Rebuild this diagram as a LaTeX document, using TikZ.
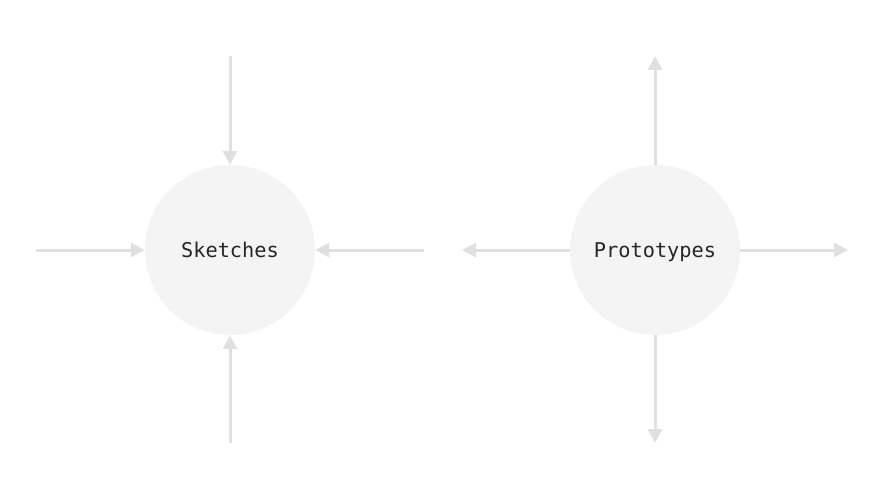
\documentclass[tikz,border=0pt]{standalone}
\usepackage{fontspec}
\setmonofont{DejaVu Sans Mono}
\usetikzlibrary{arrows.meta,positioning}
\definecolor{arrowgray}{HTML}{E0E0E0}
\definecolor{blobgray}{HTML}{F4F4F4}

\begin{document}
\begin{tikzpicture}[x=1pt,y=-1pt,
  blob/.style={circle,fill=blobgray,minimum size=170pt,inner sep=0pt,
    text height=14.5pt,text depth=0pt,
    font=\ttfamily\fontsize{20.3}{22}\selectfont,text=black!85},
  flow/.style={draw=arrowgray,line width=3pt,-{Triangle[length=14pt,width=14pt]}}]
\useasboundingbox (0,0) rectangle (885,500);
% inward
\node[blob] (sketch) at (230,250) {Sketches};
\coordinate (sw) at (36,250);
\coordinate (se) at (424,250);
\coordinate (sn) at (230,56);
\coordinate (ss) at (230,443);
\draw[flow] (sw) -- (sketch.west);
\draw[flow] (se) -- (sketch.east);
\draw[flow] (sn) -- (sketch.north);
\draw[flow] (ss) -- (sketch.south);
% outward
\node[blob] (proto) at (655,250) {Prototypes};
\coordinate (pw) at (462,250);
\coordinate (pe) at (848,250);
\coordinate (pn) at (655,56);
\coordinate (ps) at (655,443);
\draw[flow] (proto.west) -- (pw);
\draw[flow] (proto.east) -- (pe);
\draw[flow] (proto.north) -- (pn);
\draw[flow] (proto.south) -- (ps);
\end{tikzpicture}
\end{document}
